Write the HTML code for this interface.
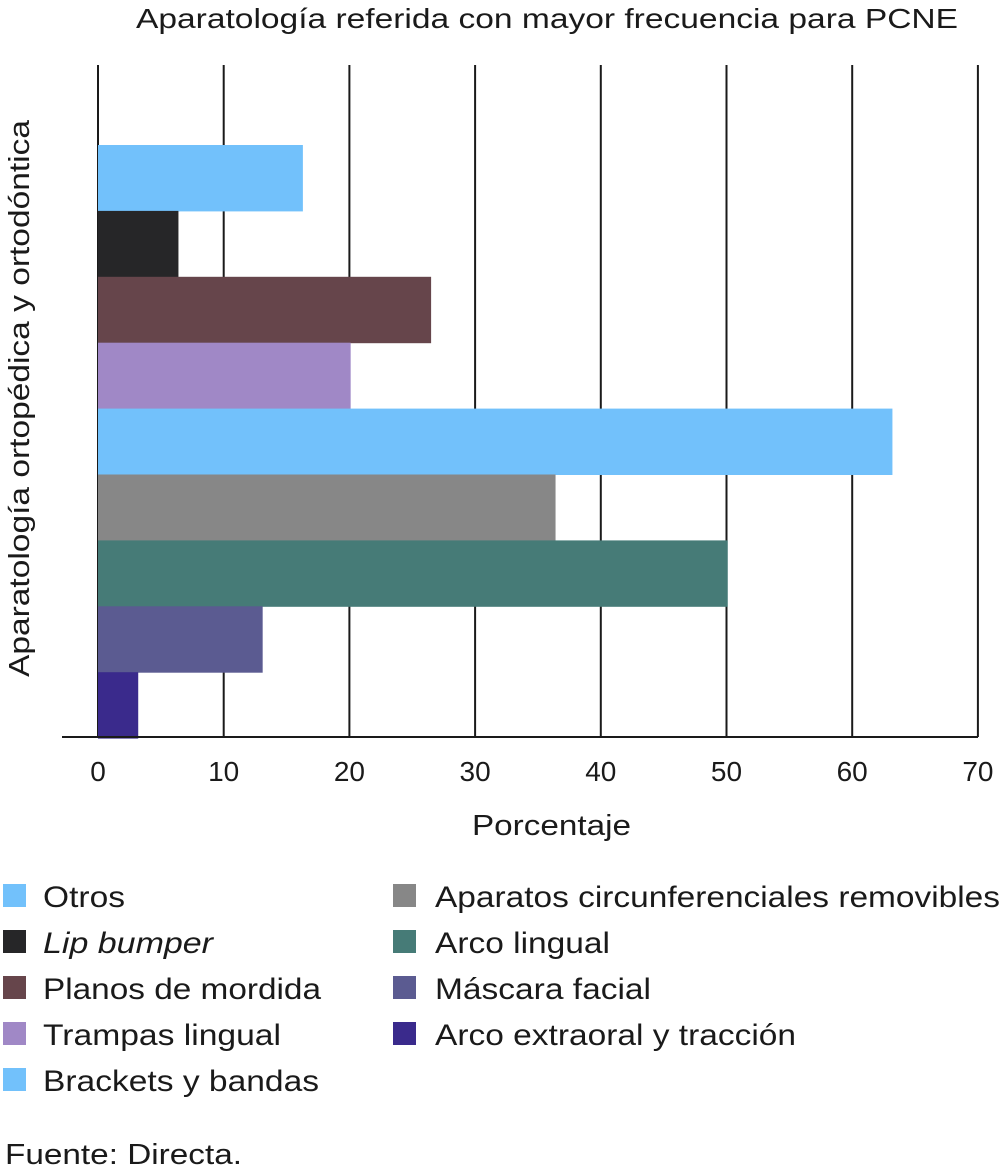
<!DOCTYPE html>
<html><head><meta charset="utf-8"><style>
body{margin:0;background:#fff;width:1004px;height:1167px;overflow:hidden;font-family:"Liberation Sans",sans-serif;color:#1a1a1a}
svg{position:absolute;left:0;top:0}
</style></head><body>
<svg width="1004" height="1167">
<text x="136" y="28" font-size="28" textLength="822" lengthAdjust="spacingAndGlyphs" font-family="Liberation Sans" fill="#1a1a1a">Aparatología referida con mayor frecuencia para PCNE</text>
<g id="grid"></g><g id="bars"></g><g id="ticks"></g>
<line x1="62" y1="737" x2="978" y2="737" stroke="#1a1a1a" stroke-width="2"/>
<text x="472" y="835" font-size="29" textLength="159" lengthAdjust="spacingAndGlyphs" font-family="Liberation Sans" fill="#1a1a1a">Porcentaje</text>
<text transform="translate(29,677) rotate(-90)" font-size="29" textLength="557" lengthAdjust="spacingAndGlyphs" font-family="Liberation Sans" fill="#1a1a1a">Aparatología ortopédica y ortodóntica</text>
<g id="legend"></g>
<text x="5" y="1164" font-size="29" textLength="237" lengthAdjust="spacingAndGlyphs" font-family="Liberation Sans" fill="#1a1a1a">Fuente: Directa.</text>
</svg>
<script>
const categories=["Otros","Lip bumper","Planos de mordida","Trampas lingual","Brackets y bandas","Aparatos circunferenciales removibles","Arco lingual","Máscara facial","Arco extraoral y tracción"];
const values=[16.3,6.4,26.5,20.1,63.2,36.4,50.1,13.1,3.2];
const colors=["#72c1fb","#262628","#66454b","#a088c6","#72c1fb","#878787","#467b77","#5b5b91","#3a2a8c"];
const tickLabels=[0,10,20,30,40,50,60,70];
const legendWidths=[82,170,278,238,276,565,175,216,361];
const NS="http://www.w3.org/2000/svg";
const x=v=>98+v*12.57;
const barTop=145,barH=65.9;
function mk(t,a,p){const e=document.createElementNS(NS,t);for(const k in a)e.setAttribute(k,a[k]);p.appendChild(e);return e;}
const G=document.getElementById('grid'),B=document.getElementById('bars'),T=document.getElementById('ticks'),L=document.getElementById('legend');
tickLabels.forEach(t=>{
 const l=mk('line',{x1:x(t),x2:x(t),y1:65,y2:737,stroke:'#1a1a1a','stroke-width':2},G);
 
 
 const tx=mk('text',{x:x(t),y:781,'font-size':28,'text-anchor':'middle',fill:'#1a1a1a'},T);
 tx.textContent=t;
 
 
});
values.forEach((v,i)=>{
 const r=mk('rect',{x:x(0),y:barTop+i*barH,width:x(v)-x(0),height:barH+0.5,fill:colors[i]},B);
 
 
});
categories.forEach((c,i)=>{
 const col=i<5?0:1,row=i<5?i:i-5;
 const sx=col?393:3,y=884+row*46;
 const s=mk('rect',{x:sx,y:y,width:23,height:23,fill:colors[i]},L);
 
 
 const t=mk('text',{x:col?435:43,y:y+23,'font-size':30,fill:'#1a1a1a',textLength:legendWidths[i],lengthAdjust:'spacingAndGlyphs'},L);
 if(i===1)t.setAttribute('font-style','italic');
 t.textContent=c;
 
 
});
</script>
</body></html>
